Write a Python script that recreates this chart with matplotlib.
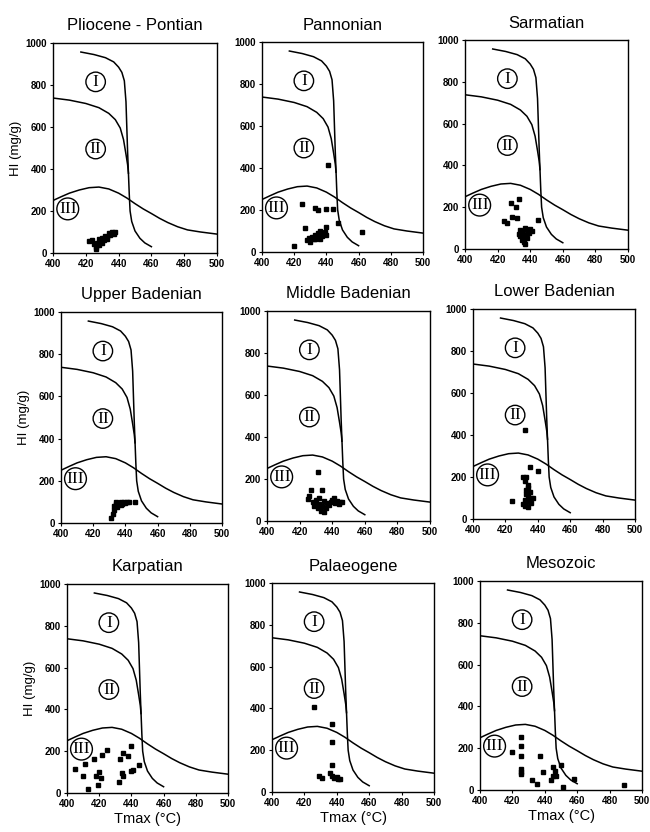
import numpy as np
import matplotlib
matplotlib.use("Agg")
import matplotlib.pyplot as plt

plt.rcParams["font.family"] = ["Liberation Sans", "DejaVu Sans"]

# ---- data ----
titles = ["Pliocene - Pontian", "Pannonian", "Sarmatian",
          "Upper Badenian", "Middle Badenian", "Lower Badenian",
          "Karpatian", "Palaeogene", "Mesozoic"]

# kerogen type boundary lines (Tmax, HI)
type1_t = [417, 425, 432, 437, 440, 442, 443.5, 444.5, 445, 445.5, 446, 446.5, 447, 448, 450, 453, 456, 460]
type1_hi = [957, 945, 930, 910, 885, 860, 820, 720, 600, 480, 380, 280, 200, 150, 105, 70, 48, 30]
type2_t = [400, 410, 420, 428, 434, 438, 441, 443, 444.5, 445.5, 446]
type2_hi = [738, 728, 712, 692, 665, 635, 595, 540, 470, 420, 380]
type3_t = [400, 405, 410, 416, 422, 428, 434, 440, 445, 450, 455, 460, 465, 470, 476, 482, 490, 500]
type3_hi = [250, 268, 285, 300, 311, 314, 305, 285, 262, 235, 210, 188, 165, 145, 125, 110, 100, 90]

pliocene_t = [422, 424, 425, 426, 426, 427, 428, 429, 430, 431, 432, 433, 434, 435, 436, 437, 438, 430, 428, 433]
pliocene_hi = [55, 62, 45, 30, 20, 50, 65, 55, 70, 60, 80, 75, 95, 85, 100, 90, 100, 50, 40, 65]

pannonian_t = [420, 425, 427, 433, 435, 440, 444, 441, 447, 462, 440,
               428, 429, 430, 431, 432, 433, 434, 435, 436, 437, 438, 439, 440, 433, 436]
pannonian_hi = [30, 230, 115, 210, 200, 205, 205, 415, 140, 95, 120,
                55, 65, 50, 70, 60, 80, 70, 90, 100, 75, 85, 95, 80, 60, 60]

sarmatian_t = [428, 433, 431, 424, 426, 429, 432, 445,
               433, 434, 435, 436, 437, 438, 439, 440, 436, 437, 435, 438, 441, 434, 437]
sarmatian_hi = [220, 240, 200, 135, 125, 155, 150, 140,
                70, 60, 80, 50, 100, 90, 75, 95, 35, 25, 45, 55, 85, 90, 65]

upper_bad_t = [431, 432, 433, 433, 434, 435, 436, 437, 438, 439, 440, 441, 442, 446, 434, 437]
upper_bad_hi = [25, 45, 60, 80, 90, 75, 95, 100, 90, 100, 95, 100, 100, 100, 100, 85]

middle_bad_t = [431, 427, 434, 426, 425,
                428, 429, 430, 431, 432, 433, 434, 435, 436, 437, 438, 439, 440, 441, 442, 443, 444, 445, 446, 432, 430, 435]
middle_bad_hi = [235, 150, 150, 120, 105,
                 90, 70, 100, 60, 80, 50, 70, 95, 60, 85, 75, 90, 100, 110, 85, 95, 80, 90, 90, 110, 75, 45]

lower_bad_t = [432, 435, 440, 424,
               431, 433, 432, 434, 433, 435, 434, 436, 432, 433, 431, 432, 434, 436, 435, 437, 433, 434]
lower_bad_hi = [425, 250, 230, 85,
                200, 200, 180, 160, 140, 130, 110, 100, 90, 80, 70, 60, 55, 75, 90, 100, 120, 150]

karpatian_t = [405, 410, 411, 413, 417, 420, 418, 421, 419, 422, 425, 432, 433, 435, 438, 434, 435, 440, 441, 440, 445]
karpatian_hi = [115, 80, 140, 20, 165, 100, 80, 70, 40, 180, 205, 55, 165, 190, 175, 95, 80, 105, 110, 225, 135]

palaeogene_t = [426, 437, 437, 437, 429, 431, 436, 437, 438, 440, 441, 442]
palaeogene_hi = [405, 325, 240, 130, 75, 68, 90, 75, 65, 70, 60, 60]

mesozoic_t = [425, 425, 425, 425, 425, 425, 420, 437, 439, 432, 435,
              445, 446, 445, 444, 447, 450, 458, 451, 489]
mesozoic_hi = [255, 210, 165, 100, 85, 75, 180, 165, 85, 50, 30,
               110, 90, 65, 50, 65, 120, 55, 15, 25]

series_t = [pliocene_t, pannonian_t, sarmatian_t, upper_bad_t, middle_bad_t,
            lower_bad_t, karpatian_t, palaeogene_t, mesozoic_t]
series_hi = [pliocene_hi, pannonian_hi, sarmatian_hi, upper_bad_hi, middle_bad_hi,
             lower_bad_hi, karpatian_hi, palaeogene_hi, mesozoic_hi]

xticks = [400, 420, 440, 460, 480, 500]
yticks = [0, 200, 400, 600, 800, 1000]

# axes boxes in pixels: left, right, top, bottom
boxes = [(53, 217, 43, 253), (262, 423, 42, 252), (465, 628, 40, 249),
         (61, 222, 312, 523), (267, 430, 311, 521), (473, 635, 309, 519),
         (67, 228, 584, 793), (272, 434, 583, 792), (480, 642, 581, 790)]

W, H = 650, 832
fig = plt.figure(figsize=(W / 100, H / 100), dpi=100)
fig.patch.set_facecolor("white")

serif = ["Liberation Serif", "DejaVu Serif"]

for i, (l, r, t, b) in enumerate(boxes):
    ax = fig.add_axes([l / W, 1 - b / H, (r - l) / W, (b - t) / H])
    ax.plot(type1_t, type1_hi, color="black", lw=1.1)
    ax.plot(type2_t, type2_hi, color="black", lw=1.1)
    ax.plot(type3_t, type3_hi, color="black", lw=1.1)
    ax.plot(series_t[i], series_hi[i], ls="none", marker="s", ms=3.0,
            color="black", zorder=5)

    circ = dict(boxstyle="circle,pad=0.1", fc="white", ec="black", lw=1.0)
    ax.text(426, 815, "I", ha="center", va="center", fontsize=12.5,
            family=serif, bbox=circ)
    ax.text(426, 495, "II", ha="center", va="center", fontsize=12.5,
            family=serif, bbox=circ)
    ax.text(409, 210, "III", ha="center", va="center", fontsize=12.5,
            family=serif,
            bbox=dict(boxstyle="circle,pad=0.12", fc="none", ec="black", lw=1.0))

    ax.set_xlim(400, 500)
    ax.set_ylim(0, 1000)
    ax.set_xticks(xticks)
    ax.set_yticks(yticks)
    ax.tick_params(labelsize=7, length=2.5, width=0.8, pad=2)
    for lab in ax.get_xticklabels() + ax.get_yticklabels():
        lab.set_fontweight("bold")
    for s in ax.spines.values():
        s.set_linewidth(1.0)
    ax.set_title(titles[i], fontsize=12, pad=9)
    if i % 3 == 0:
        ax.set_ylabel("HI (mg/g)", fontsize=9.5, labelpad=2)
    if i >= 6:
        ax.set_xlabel("Tmax (°C)", fontsize=10.5, labelpad=2)

fig.savefig("out.png", dpi=100, facecolor="white")
